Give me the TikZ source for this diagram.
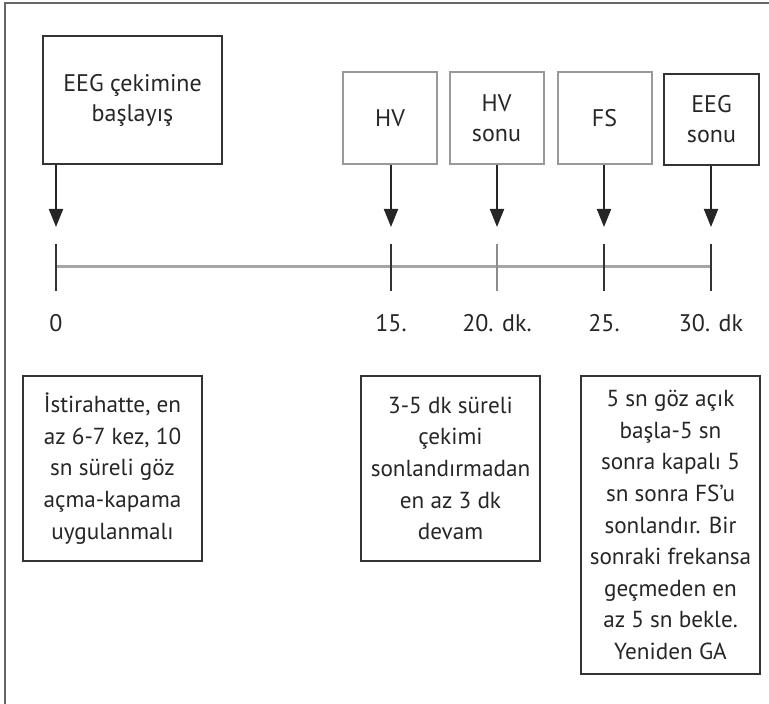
\documentclass[tikz,border=0pt]{standalone}
\usepackage{fontspec}
\setmainfont{PT Sans}
\usetikzlibrary{positioning, arrows.meta}

\begin{document}
\begin{tikzpicture}[x=0.5pt, y=-0.5pt, >={Triangle[length=9pt, width=7pt]},
    every node/.style={text=black!85, font=\fontsize{12}{15}\selectfont},
    eventbox/.style={draw=black!80, line width=1pt, align=center, inner sep=2pt},
    stepbox/.style={eventbox, draw=black!40, minimum width=47pt, minimum height=46pt},
    notebox/.style={draw=black!80, line width=1pt, align=center, inner sep=2pt,
        minimum width=89.5pt, font=\fontsize{11.6}{15.8}\selectfont},
    tick/.style={line width=1pt, black!80}]
    \useasboundingbox (0,0) rectangle (769,704);
    % outer frame, only left and top edges show
    \draw[black!60, line width=1.4pt] (5,704) -- (5,3) -- (769,3);

    % time points and arrow ends
    \foreach \n/\x in {0/56, 15/391, 20/497, 25/604, 30/711} {
        \coordinate (t\n) at (\x,267);
        \coordinate (a\n) at (\x,227);
    }

    % events
    \node[eventbox, minimum width=89.5pt, minimum height=64pt] (start) at (132.5,100) {EEG çekimine\\başlayış};
    \node[stepbox] (hv) at (390,118) {HV};
    \node[stepbox] (hvend) at (496.5,118) {HV\\sonu};
    \node[stepbox] (fs) at (604.5,118) {FS};
    \node[eventbox, minimum width=47.5pt, minimum height=45.5pt] (eegend) at (711.5,119.5) {EEG\\sonu};

    % arrows down to the time line
    \draw[->, line width=1pt, black!85] (start.south -| a0) -- (a0);
    \draw[->, line width=1pt, black!85] (hv.south -| a15) -- (a15);
    \draw[->, line width=1pt, black!85] (hvend.south -| a20) -- (a20);
    \draw[->, line width=1pt, black!85] (fs.south -| a25) -- (a25);
    \draw[->, line width=1pt, black!85] (eegend.south -| a30) -- (a30);

    % time line
    \draw[black!35, line width=1.5pt] (t0) -- (t30);
    \draw[tick] (t0) ++(0,-23) -- ++(0,47);
    \draw[tick] (t15) ++(0,-23) -- ++(0,47);
    \draw[tick, black!45] (t20) ++(0,-23) -- ++(0,47);
    \draw[tick] (t25) ++(0,-23) -- ++(0,47);
    \draw[tick] (t30) ++(0,-23) -- ++(0,47);

    % minutes
    \node (l0) at (56,323) {0};
    \node (l15) at (391,323) {15.};
    \node (l20) at (497,323) {20. dk.};
    \node (l25) at (604,323) {25.};
    \node (l30) at (711,323) {30. dk};

    % notes
    \node[notebox, minimum height=92.5pt] (rest) at (112.5,468.5)
        {İstirahatte, en\\az 6-7 kez, 10\\sn süreli göz\\açma-kapama\\uygulanmalı};
    \node[notebox, minimum height=92.5pt] (hvnote) at (450.5,468.5)
        {3-5 dk süreli\\çekimi\\sonlandırmadan\\en az 3 dk\\devam};
    \node[notebox, minimum height=149pt] (fsnote) at (670.5,525)
        {5 sn göz açık\\başla-5 sn\\sonra kapalı 5\\sn sonra FS'u\\sonlandır. Bir\\sonraki frekansa\\geçmeden en\\az 5 sn bekle.\\Yeniden GA};
\end{tikzpicture}
\end{document}
